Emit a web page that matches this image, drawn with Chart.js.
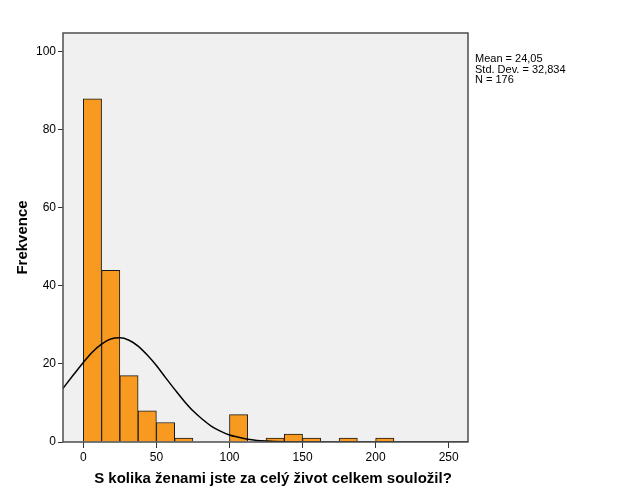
<!DOCTYPE html>
<html><head><meta charset="utf-8">
<script src="https://cdn.jsdelivr.net/npm/chart.js@4.4.1/dist/chart.umd.min.js"></script>
<style>html,body{margin:0;padding:0;background:#fff}#wrap{width:626px;height:501px}</style>
</head><body><div id="wrap"><canvas id="c" width="626" height="501"></canvas></div>
<script>
// Histogram bins (width 12.5): bin centres and frequencies
const binCenters = [6.25, 18.75, 31.25, 43.75, 56.25, 68.75, 106.25, 131.25, 143.75, 156.25, 181.25, 206.25];
const binCounts  = [88, 44, 17, 8, 5, 1, 7, 1, 2, 1, 1, 1];
// Normal curve, values
const curveX = [-14, -7, 0, 6.25, 12.5, 18.75, 25, 31.25, 37.5, 43.75, 50, 56.25, 62.5, 68.75, 75, 81.25, 87.5, 93.75, 100, 106.25, 112.5, 118.75, 125, 137.5, 150, 175, 263];
const curveY = [13.7, 17.1, 20.4, 23.1, 25.1, 26.4, 26.7, 26.1, 24.6, 22.3, 19.6, 16.5, 13.5, 10.6, 8.0, 5.9, 4.1, 2.8, 1.8, 1.2, 0.7, 0.4, 0.24, 0.07, 0.02, 0, 0];
const xTicks = [0, 50, 100, 150, 200, 250];
const yTicks = [0, 20, 40, 60, 80, 100];
const statsLines = ["Mean = 24,05", "Std. Dev. = 32,834", "N = 176"];
const xTitle = "S kolika ženami jste za celý život celkem souložil?";
const yTitle = "Frekvence";

const FONT = "'Liberation Sans', Arial, sans-serif";
const frame = {
  id: 'frame',
  beforeDraw(chart) {
    const {ctx, chartArea: a} = chart;
    ctx.save();
    ctx.fillStyle = '#f0f0f0';
    ctx.fillRect(a.left, a.top, a.right - a.left, a.bottom - a.top);
    ctx.restore();
  },
  afterDraw(chart) {
    const {ctx, chartArea: a} = chart;
    ctx.save();
    ctx.strokeStyle = '#4d4d4d';
    ctx.lineWidth = 1.5;
    ctx.strokeRect(a.left, a.top, a.right - a.left, a.bottom - a.top);
    ctx.fillStyle = '#000';
    ctx.font = "11px " + FONT;
    ctx.textBaseline = 'alphabetic';
    statsLines.forEach((s, i) => ctx.fillText(s, a.right + 7, a.top + 29 + i * 10.5));
    // x axis title
    ctx.font = "bold 15px " + FONT;
    ctx.textAlign = 'center';
    ctx.textBaseline = 'middle';
    ctx.fillText(xTitle, 273, 479);
    ctx.restore();
  }
};

new Chart(document.getElementById('c'), {
  data: {
    datasets: [
      {
        type: 'bar',
        data: binCenters.map((x, i) => ({x, y: binCounts[i]})),
        backgroundColor: '#f89a1f',
        borderColor: '#1a1a1a',
        borderWidth: 1,
        barPercentage: 1,
        categoryPercentage: 1,
        order: 2
      },
      {
        type: 'line',
        data: curveX.map((x, i) => ({x, y: curveY[i]})),
        borderColor: '#000',
        borderWidth: 1.5,
        pointRadius: 0,
        cubicInterpolationMode: 'monotone',
        fill: false,
        order: 1
      }
    ]
  },
  options: {
    responsive: false,
    animation: false,
    events: [],
    layout: {padding: {left: 0, top: 33, right: 158, bottom: 0}},
    plugins: {legend: {display: false}, tooltip: {enabled: false}},
    scales: {
      x: {
        type: 'linear',
        offset: false,
        min: -13.9, max: 263.2,
        afterBuildTicks: s => { s.ticks = xTicks.map(v => ({value: v})); },
        afterFit: s => { s.height = 59; },
        border: {display: false},
        grid: {offset: false, drawOnChartArea: false, tickLength: 6, tickColor: '#333', lineWidth: 1},
        ticks: {color: '#000', font: {family: FONT, size: 12}, padding: 2, maxRotation: 0}
      },
      y: {
        min: 0, max: 104.87,
        afterBuildTicks: s => { s.ticks = yTicks.map(v => ({value: v})); },
        afterFit: s => { s.width = 63; },
        border: {display: false},
        grid: {drawOnChartArea: false, tickLength: 5, tickColor: '#333', lineWidth: 1},
        ticks: {color: '#000', font: {family: FONT, size: 12}, padding: 2},
        title: {display: true, text: yTitle, color: '#000', font: {family: FONT, size: 15, weight: 'bold'}, padding: {top: 14, bottom: 4}}
      }
    }
  },
  plugins: [frame]
});
</script></body></html>
